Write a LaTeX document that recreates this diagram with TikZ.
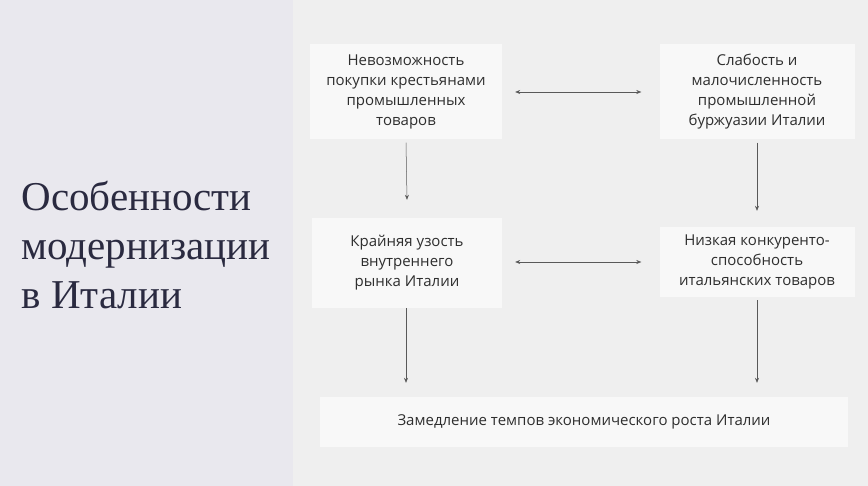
\documentclass[tikz,border=0pt]{standalone}
\usepackage{fontspec}
\setmainfont{Open Sans}
\newfontfamily\titlefont{Liberation Serif}
\usetikzlibrary{arrows.meta}
\definecolor{leftbg}{HTML}{E9E8EE}
\definecolor{rightbg}{HTML}{EFEFEF}
\definecolor{boxbg}{HTML}{F8F8F8}
\definecolor{txt}{HTML}{2E2E2E}
\definecolor{ttl}{HTML}{2A2A40}
\tikzset{
  box/.style={fill=boxbg,draw=none,align=center,font=\fontsize{15}{20}\selectfont,text=txt,inner sep=0pt},
  conn/.style={draw=black!65,line width=0.5pt,-{Stealth[length=5pt,width=4pt]}},
  bconn/.style={draw=black!65,line width=0.5pt,{Stealth[length=5pt,width=4pt]}-{Stealth[length=5pt,width=4pt]}}
}
\begin{document}
\begin{tikzpicture}[x=1pt,y=-1pt]
\useasboundingbox (0,0) rectangle (868,486);
\fill[rightbg] (0,0) rectangle (868,486);
\fill[leftbg] (0,0) rectangle (293,486);
\node[anchor=west,align=left,text=ttl,font=\titlefont\fontsize{41}{49}\selectfont] (title) at (18,245) {Особенности\\модернизации\\в Италии};
\node[box,minimum width=192pt,minimum height=95pt] (a) at (406,92) {Невозможность\\покупки крестьянами\\промышленных\\товаров};
\node[box,minimum width=195pt,minimum height=95pt] (b) at (757,92) {Слабость и\\малочисленность\\промышленной\\буржуазии Италии};
\node[box,minimum width=190pt,minimum height=90pt] (c) at (407,263) {Крайняя узость\\внутреннего\\рынка Италии};
\node[box,minimum width=195pt,minimum height=70pt] (d) at (757,262) {Низкая конкуренто-\\способность\\итальянских товаров};
\node[box,minimum width=528pt,minimum height=50pt] (e) at (584,422) {Замедление темпов экономического роста Италии};
\draw[bconn] ([xshift=13pt]a.east) -- ([xshift=-18pt]b.west);
\draw[bconn] ([xshift=13pt]c.east|-d.east) -- ([xshift=-18pt]d.west);
\draw[conn] ([yshift=-3pt]a.south) -- ([yshift=18pt]c.north);
\draw[conn] ([yshift=-3pt]b.south) -- ([yshift=16pt]d.north);
\draw[conn] (c.south-|a.south) -- ([yshift=14pt]e.north-|a.south);
\draw[conn] ([yshift=-3pt]d.south) -- ([yshift=14pt]e.north-|d.south);
\end{tikzpicture}
\end{document}
